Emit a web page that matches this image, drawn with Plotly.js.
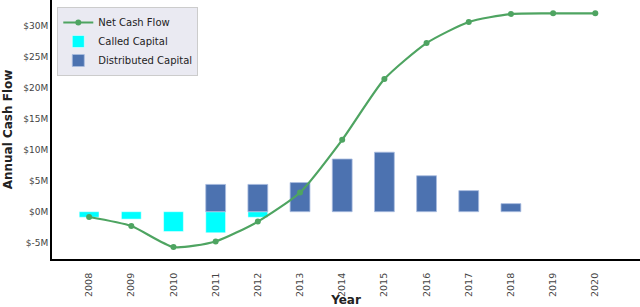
<!DOCTYPE html>
<html><head><meta charset="utf-8">
<script src="https://cdn.plot.ly/plotly-3.0.1.min.js"></script>
<style>html,body{margin:0;padding:0;background:#fff;}#chart{width:640px;height:307px;}</style>
</head><body><div id="chart"></div>
<script>
const years = [2008,2009,2010,2011,2012,2013,2014,2015,2016,2017,2018,2019,2020];
const netCashFlow = [-0.85,-2.3,-5.7,-4.8,-1.6,3.1,11.6,21.4,27.2,30.6,31.9,32.0,32.0];
const calledCapital = [-0.9,-1.2,-3.2,-3.4,-0.9,null,null,null,null,null,null,null,null];
const distributedCapital = [null,null,null,4.4,4.4,4.7,8.5,9.6,5.8,3.4,1.3,null,null];
const yTickVals = [-5,0,5,10,15,20,25,30];
const yTickText = ['$-5M','$0M','$5M','$10M','$15M','$20M','$25M','$30M'];

const traces = [
  {x: years, y: netCashFlow, type: 'scatter', mode: 'lines+markers', name: 'Net Cash Flow',
   line: {color: '#4ea461', width: 2.2, shape: 'spline', smoothing: 0.6},
   marker: {color: '#4ea461', size: 6}},
  {x: years, y: calledCapital, type: 'bar', name: 'Called Capital', width: 0.47,
   marker: {color: '#00ffff', line: {color: '#ffffff', width: 0.5}}},
  {x: years, y: distributedCapital, type: 'bar', name: 'Distributed Capital', width: 0.47,
   marker: {color: '#4c72b0', line: {color: '#a9bde0', width: 0.8}}}
];

const layout = {
  width: 640, height: 307,
  margin: {l: 52, r: 0, t: 0, b: 48},
  paper_bgcolor: '#ffffff', plot_bgcolor: '#ffffff',
  barmode: 'overlay',
  font: {family: 'DejaVu Sans', color: '#444444'},
  showlegend: true,
  legend: {x: 0.009, y: 0.973, xanchor: 'left', yanchor: 'top',
    bgcolor: '#eaeaf2', bordercolor: '#cccccc', borderwidth: 1,
    font: {family: 'DejaVu Sans', size: 10, color: '#222222'},
    tracegroupgap: 0, itemwidth: 30},
  xaxis: {range: [2007.12, 2021.06], tickvals: years, ticktext: years.map(String),
    tickangle: -90, tickfont: {size: 9.5, color: '#444444'}, showgrid: false, zeroline: false,
    showline: true, linecolor: '#000000', linewidth: 2, ticks: 'outside', ticklen: 8, tickcolor: 'rgba(0,0,0,0)',
    title: {text: 'Year', font: {family: 'DejaVu Sans', size: 12, color: '#222222', weight: 'bold'}, standoff: 2}},
  yaxis: {range: [-7.63, 34.15], tickvals: yTickVals, ticktext: yTickText,
    tickfont: {size: 9, color: '#444444'}, showgrid: false, zeroline: false,
    showline: true, linecolor: '#000000', linewidth: 2, ticks: '',
    title: {text: 'Annual Cash Flow', font: {family: 'DejaVu Sans', size: 12, color: '#222222', weight: 'bold'}, standoff: 8}}
};
Plotly.newPlot('chart', traces, layout, {displayModeBar: false, staticPlot: true});
</script></body></html>
